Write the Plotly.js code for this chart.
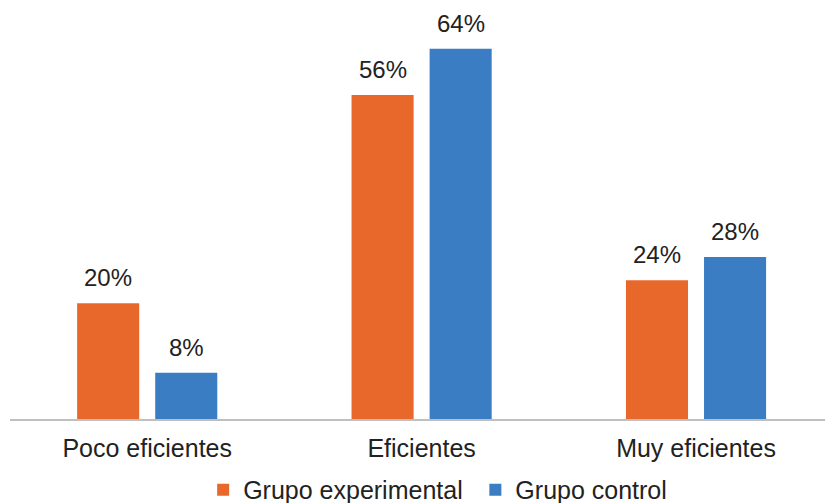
<!DOCTYPE html>
<html>
<head>
<meta charset="utf-8">
<script src="https://cdn.plot.ly/plotly-3.0.1.min.js"></script>
<style>html,body{margin:0;padding:0;background:#fff}#chart{width:825px;height:503px}</style>
</head>
<body>
<div id="chart"></div>
<script>
const categories = ["Poco eficientes", "Eficientes", "Muy eficientes"];
const seriesNames = ["Grupo experimental", "Grupo control"];
const experimental = [20, 56, 24];
const control = [8, 64, 28];

const font = "Liberation Sans, Arial, sans-serif";
const textColor = "#222222";
const colors = ["#E8682C", "#3A7DC3"];
const bargap = 0.431;
const bargroupgap = 0.205;
const slot = (1 - bargap) / 2;

const series = [experimental, control];
const traces = series.map((vals, s) => ({
  type: "bar", name: seriesNames[s], x: categories, y: vals,
  marker: {color: colors[s]}, hoverinfo: "none",
  legend: s === 0 ? "legend" : "legend2"
}));

const annotations = [];
series.forEach((vals, s) => {
  vals.forEach((v, i) => {
    annotations.push({
      x: i + (s === 0 ? -slot / 2 : slot / 2), y: v, xref: "x", yref: "y",
      text: v + "%", showarrow: false, yanchor: "bottom", yshift: 10,
      font: {family: font, size: 24, color: textColor}
    });
  });
});

const legendBase = {orientation: "h", xanchor: "left", y: -0.175, yanchor: "middle",
  font: {family: font, size: 25, color: textColor}, itemwidth: 30, bgcolor: "rgba(0,0,0,0)"};

const layout = {
  width: 825, height: 503,
  margin: {l: 10, r: 0, t: 14, b: 84, autoexpand: false},
  paper_bgcolor: "#fff", plot_bgcolor: "#fff",
  barmode: "group", bargap: bargap, bargroupgap: bargroupgap,
  font: {family: font, size: 25, color: textColor},
  xaxis: {type: "category", range: [-0.5, 2.47], showline: true, linecolor: "#BFBFBF", linewidth: 2,
          ticks: "", showgrid: false, zeroline: false, fixedrange: true, automargin: false,
          ticklabelstandoff: 6,
          tickfont: {family: font, size: 25, color: textColor}},
  yaxis: {range: [0, 70], visible: false, showgrid: false, zeroline: false, fixedrange: true},
  annotations: annotations,
  showlegend: true,
  legend: Object.assign({}, legendBase, {x: 0.237}),
  legend2: Object.assign({}, legendBase, {x: 0.571})
};

Plotly.newPlot("chart", traces, layout, {displayModeBar: false, staticPlot: true});
</script>
</body>
</html>
